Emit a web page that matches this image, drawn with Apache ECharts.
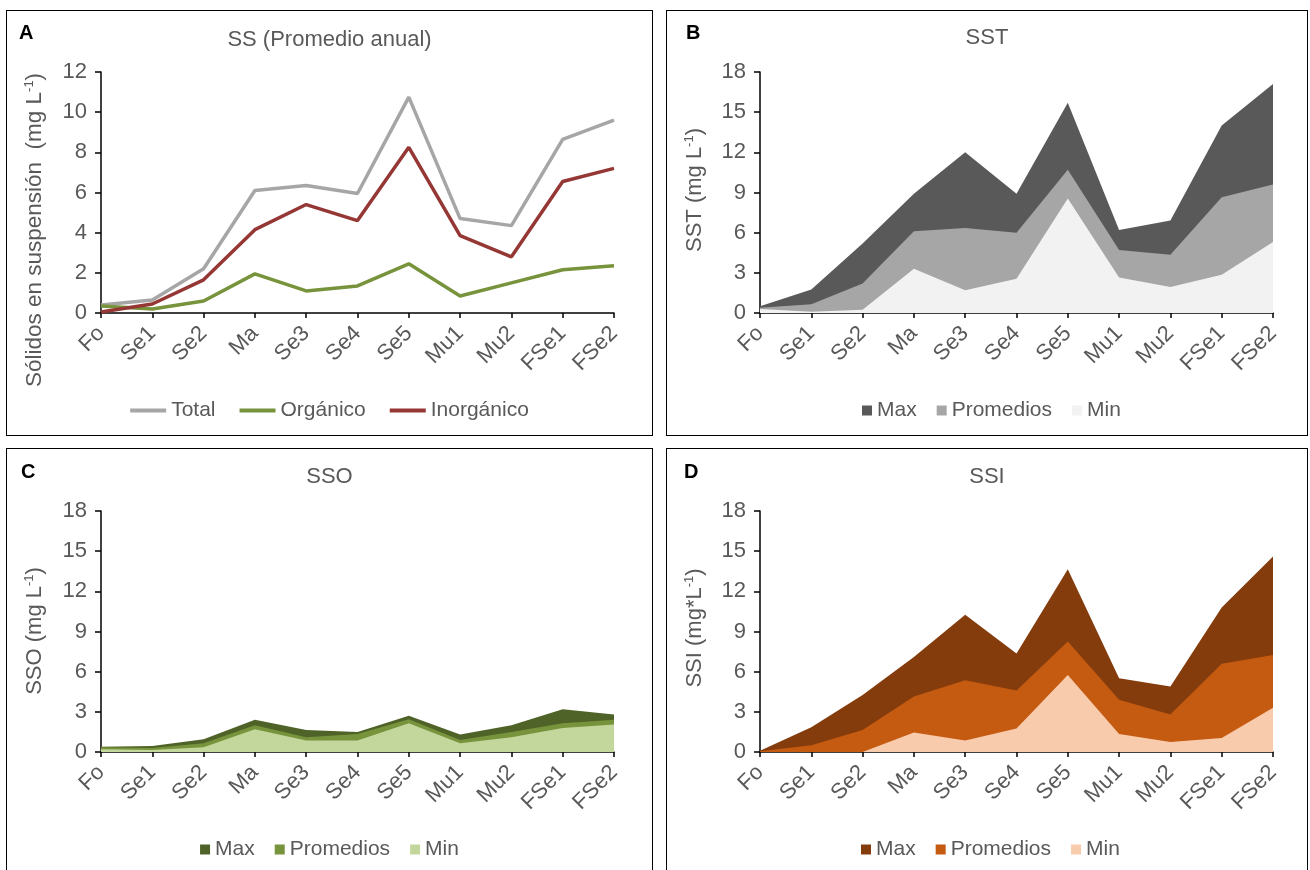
<!DOCTYPE html>
<html>
<head>
<meta charset="utf-8">
<script src="https://cdn.jsdelivr.net/npm/echarts@6/dist/echarts.min.js"></script>
<style>
  html, body { margin:0; padding:0; background:#fff; width:1310px; height:870px; overflow:hidden; }
  .chart { position:absolute; }
  .box { position:absolute; border:1.5px solid #000; box-sizing:border-box; pointer-events:none; }
</style>
</head>
<body>
<div class="chart" id="cA" style="left:6px;top:10px;width:647px;height:426px;"></div>
<div class="chart" id="cB" style="left:666px;top:10px;width:642px;height:426px;"></div>
<div class="chart" id="cC" style="left:6px;top:448px;width:647px;height:440px;"></div>
<div class="chart" id="cD" style="left:666px;top:448px;width:642px;height:440px;"></div>
<div class="box" style="left:6px;top:10px;width:647px;height:426px;"></div>
<div class="box" style="left:666px;top:10px;width:642px;height:426px;"></div>
<div class="box" style="left:6px;top:448px;width:647px;height:440px;"></div>
<div class="box" style="left:666px;top:448px;width:642px;height:440px;"></div>
<script>
// ---- data ----
const categories = ['Fo','Se1','Se2','Ma','Se3','Se4','Se5','Mu1','Mu2','FSe1','FSe2'];

const ssTotal      = [0.40, 0.65, 2.20, 6.10, 6.35, 5.95, 10.75, 4.70, 4.35, 8.65, 9.60];
const ssOrganico   = [0.35, 0.20, 0.60, 1.95, 1.10, 1.35, 2.45, 0.85, 1.50, 2.15, 2.35];
const ssInorganico = [0.05, 0.45, 1.65, 4.15, 5.40, 4.60, 8.25, 3.85, 2.80, 6.55, 7.20];

const sstMax  = [0.50, 1.75, 5.20, 8.90, 12.00, 8.90, 15.70, 6.20, 6.90, 14.00, 17.10];
const sstProm = [0.40, 0.65, 2.20, 6.10, 6.35, 6.00, 10.70, 4.70, 4.35, 8.65, 9.60];
const sstMin  = [0.30, 0.10, 0.25, 3.30, 1.70, 2.55, 8.55, 2.65, 1.95, 2.85, 5.30];

const ssoMax  = [0.40, 0.45, 0.95, 2.40, 1.65, 1.50, 2.70, 1.30, 2.00, 3.20, 2.80];
const ssoProm = [0.35, 0.30, 0.65, 2.00, 1.10, 1.35, 2.45, 0.90, 1.50, 2.15, 2.40];
const ssoMin  = [0.20, 0.15, 0.35, 1.70, 0.85, 0.85, 2.15, 0.65, 1.10, 1.80, 2.05];

const ssiMax  = [0.10, 1.85, 4.25, 7.10, 10.25, 7.35, 13.65, 5.50, 4.90, 10.80, 14.60];
const ssiProm = [0.05, 0.50, 1.65, 4.15, 5.35, 4.60, 8.25, 3.90, 2.80, 6.60, 7.25];
const ssiMin  = [0.00, 0.00, 0.00, 1.45, 0.85, 1.75, 5.75, 1.35, 0.75, 1.05, 3.30];

const yTicksA = [0, 2, 4, 6, 8, 10, 12];
const yTicksBCD = [0, 3, 6, 9, 12, 15, 18];

// ---- styling ----
const FONT = "'Liberation Sans', Arial, sans-serif";
const GREY = '#595959';

function xAxis() {
  return {
    type: 'category', data: categories, boundaryGap: false,
    axisLine: { lineStyle: { color: '#000', width: 1.5 } },
    axisTick: { show: true, alignWithLabel: true, length: 5, lineStyle: { color: '#000', width: 1.5 } },
    axisLabel: { rotate: 45, fontSize: 22, color: GREY, fontFamily: FONT, margin: 17, interval: 0 },
    splitLine: { show: false }
  };
}
function yAxis(ticks) {
  return {
    type: 'value', min: ticks[0], max: ticks[ticks.length - 1], interval: ticks[1] - ticks[0],
    axisLine: { show: true, lineStyle: { color: '#000', width: 1.5 } },
    axisTick: { show: true, length: 6, lineStyle: { color: '#000', width: 1.5 } },
    axisLabel: { fontSize: 22, color: GREY, fontFamily: FONT, margin: 14 },
    splitLine: { show: false }
  };
}
function yName(x, y, main, size) {
  return {
    type: 'text', x: x, y: y, rotation: Math.PI / 2,
    style: {
      text: '{a|' + main + '}{s|-1}{a|)}',
      align: 'center', verticalAlign: 'middle',
      rich: {
        a: { fontSize: size, fontFamily: FONT, fill: GREY, lineHeight: 25 },
        s: { fontSize: 13, fontFamily: FONT, fill: GREY, verticalAlign: 'top', lineHeight: 25 }
      }
    }
  };
}
function letter(x, y, t) {
  return { type: 'text', x: x, y: y, style: { text: t, fontSize: 20, fontWeight: 'bold', fontFamily: FONT, fill: '#000', verticalAlign: 'middle' } };
}
function title(t, top) {
  return { text: t, left: 'center', top: top, textStyle: { fontSize: 22, fontWeight: 'normal', color: GREY, fontFamily: FONT } };
}
function areaSeries(name, data, color) {
  return { name: name, type: 'line', data: data, symbol: 'none', lineStyle: { width: 0 },
           areaStyle: { color: color, opacity: 1 }, itemStyle: { color: color }, silent: true, animation: false };
}
function areaOption(opts) {
  return {
    animation: false,
    title: title(opts.title, opts.titleTop),
    grid: opts.grid,
    xAxis: xAxis(), yAxis: yAxis(yTicksBCD),
    legend: {
      data: ['Max', 'Promedios', 'Min'], left: opts.legendLeft, top: opts.legendTop,
      icon: 'rect', itemWidth: 10, itemHeight: 10, itemGap: 20,
      textStyle: { fontSize: 21, color: GREY, fontFamily: FONT }
    },
    series: [
      areaSeries('Max', opts.max, opts.colors[0]),
      areaSeries('Promedios', opts.prom, opts.colors[1]),
      areaSeries('Min', opts.min, opts.colors[2])
    ],
    graphic: [letter(opts.letterX, opts.letterY, opts.letter), yName(29, opts.nameY, opts.yname, 22)]
  };
}

// ---- Panel A ----
const chA = echarts.init(document.getElementById('cA'), null, { renderer: 'canvas' });
function lineSeries(name, data, color) {
  return { name: name, type: 'line', data: data, symbol: 'none', lineStyle: { width: 3.5, color: color }, itemStyle: { color: color } };
}
chA.setOption({
  animation: false,
  title: title('SS (Promedio anual)', 14),
  grid: { left: 95, right: 39, top: 62, bottom: 123 },
  xAxis: xAxis(), yAxis: yAxis(yTicksA),
  legend: {
    data: ['Total', 'Orgánico', 'Inorgánico'], left: 'center', top: 385,
    icon: 'rect', itemWidth: 36, itemHeight: 4, itemGap: 24,
    textStyle: { fontSize: 21, color: GREY, fontFamily: FONT }
  },
  series: [
    lineSeries('Total', ssTotal, '#a6a6a6'),
    lineSeries('Orgánico', ssOrganico, '#77933c'),
    lineSeries('Inorgánico', ssInorganico, '#953735')
  ],
  graphic: [letter(13, 23, 'A'), yName(29, 220, 'Sólidos en suspensión  (mg L', 22.5)]
});

// ---- Panel B ----
echarts.init(document.getElementById('cB')).setOption(areaOption({
  title: 'SST', titleTop: 12, grid: { left: 94, right: 35, top: 62, bottom: 123 }, legendTop: 385, legendLeft: 191,
  max: sstMax, prom: sstProm, min: sstMin, colors: ['#595959', '#a6a6a6', '#f2f2f2'],
  letter: 'B', letterX: 20, letterY: 23, yname: 'SST (mg L', nameY: 180
}));

// ---- Panel C ----
echarts.init(document.getElementById('cC')).setOption(areaOption({
  title: 'SSO', titleTop: 13, grid: { left: 95, right: 39, top: 63, bottom: 136 }, legendTop: 386, legendLeft: 'center',
  max: ssoMax, prom: ssoProm, min: ssoMin, colors: ['#4f6228', '#77933c', '#c3d69b'],
  letter: 'C', letterX: 15, letterY: 24, yname: 'SSO (mg L', nameY: 183
}));

// ---- Panel D ----
echarts.init(document.getElementById('cD')).setOption(areaOption({
  title: 'SSI', titleTop: 13, grid: { left: 94, right: 35, top: 63, bottom: 136 }, legendTop: 386, legendLeft: 190,
  max: ssiMax, prom: ssiProm, min: ssiMin, colors: ['#843c0c', '#c55a11', '#f8cbad'],
  letter: 'D', letterX: 18, letterY: 24, yname: 'SSI (mg*L', nameY: 180
}));
</script>
</body>
</html>
